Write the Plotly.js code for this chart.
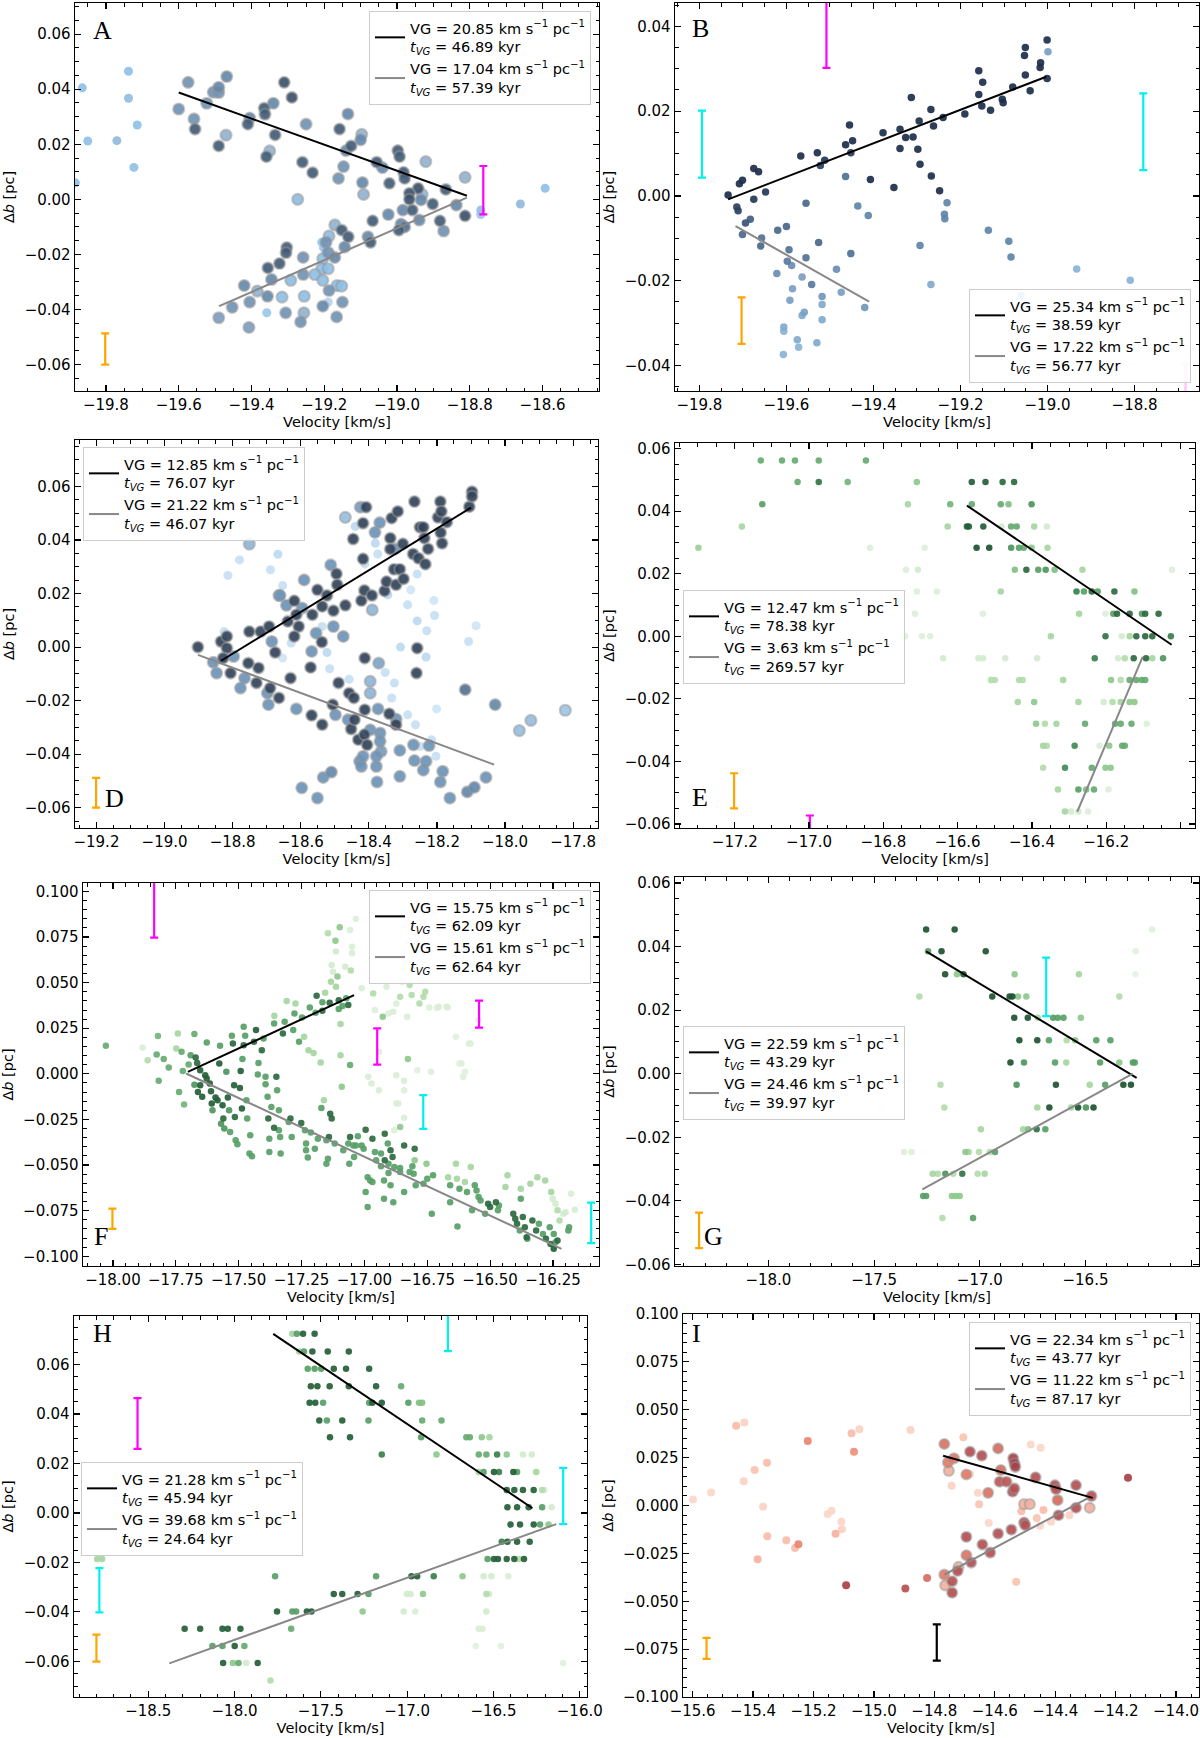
<!DOCTYPE html>
<html>
<head>
<meta charset="utf-8">
<script src="https://cdn.plot.ly/plotly-3.0.1.min.js"></script>
<style>
  body { margin: 0; background: #fff; }
  #chart { width: 1200px; height: 1738px; }
</style>
</head>
<body>
<div id="chart"></div>
<script>
/***** data: [velocity, delta b, shade 0..1] *****/
var aField = [
[-19.865,0.0405,0.3],[-19.738,0.0465,0.3],[-19.738,0.0367,0.35],[-19.714,0.027,0.3],[-19.85,0.0212,0.3],[-19.77,0.0213,0.4],[-19.723,0.0116,0.3],[-19.884,0.006,0.35],
[-18.661,-0.0017,0.4],[-18.593,0.004,0.3],[-18.77,-0.0039,0.3],[-18.77,-0.0055,0.25]
];
var aPts = [
[-19.6,0.0328,0.65],[-19.574,0.0425,0.65],[-19.558,0.0292,0.65],[-19.555,0.0255,0.9],[-19.523,0.0349,0.65],[-19.505,0.0389,0.65],[-19.49,0.0407,0.7],[-19.49,0.0388,0.65],[-19.49,0.0194,0.9],[-19.468,0.0446,0.7],[-19.47,0.0233,0.5],
[-19.41,0.0273,0.9],[-19.405,0.0295,0.7],[-19.365,0.0331,0.9],[-19.363,0.0309,0.9],[-19.34,0.0349,0.7],[-19.335,0.0234,0.9],[-19.359,0.0155,0.9],[-19.35,0.0176,0.5],[-19.31,0.0425,0.95],[-19.289,0.037,0.95],[-19.25,0.0273,0.65],[-19.26,0.0135,0.9],[-19.232,0.0097,0.9],[-19.273,0.0,0.35],
[-19.158,0.0255,0.9],[-19.135,0.031,0.7],[-19.147,0.0119,0.65],[-19.161,0.0076,0.65],[-19.14,0.0177,0.7],[-19.126,0.0194,0.9],[-19.1,0.0216,0.7],[-19.097,0.0236,0.5],[-19.095,0.0061,0.7],[-19.092,0.0018,0.5],
[-19.056,0.0135,0.9],[-19.04,0.0115,0.7],[-19.021,0.0058,0.9],[-18.998,0.0177,0.9],[-18.993,0.0155,0.9],[-18.982,0.0098,0.9],[-18.979,0.0076,0.9],[-18.921,0.0137,0.5],[-18.942,0.004,0.95],[-18.966,0.0022,0.95],[-18.966,0.0,0.95],[-18.934,-0.0002,0.7],[-18.931,0.0018,0.4],[-18.866,0.0036,0.9],[-18.902,-0.0017,0.9],[-18.837,-0.0021,0.7],[-18.813,0.008,0.5],[-18.813,-0.006,0.95],
[-18.984,-0.0039,0.7],[-18.958,-0.0039,0.9],[-19.024,-0.0055,0.7],[-19.067,-0.0078,0.9],[-18.989,-0.009,0.7],[-18.995,-0.0112,0.9],[-18.979,-0.01,0.8],[-18.939,-0.0075,0.7],[-18.882,-0.0078,0.9],[-18.872,-0.0115,0.65],
[-19.08,-0.0136,0.7],[-19.073,-0.0156,0.9],[-19.171,-0.0093,0.5],[-19.152,-0.0112,0.9],[-19.134,-0.0136,0.9],[-19.144,-0.0173,0.7],[-19.187,-0.0133,0.35],[-19.195,-0.0156,0.65],[-19.207,-0.0156,0.25],[-19.202,-0.0176,0.25],[-19.189,-0.0193,0.65],
[-19.303,-0.0175,0.9],[-19.305,-0.0194,0.9],[-19.258,-0.0211,0.65],[-19.171,-0.0211,0.7],[-19.204,-0.0215,0.3],[-19.323,-0.0233,0.9],[-19.355,-0.0249,0.9],[-19.207,-0.0252,0.3],[-19.189,-0.0252,0.3],[-19.226,-0.0273,0.3],[-19.258,-0.0273,0.65],[-19.345,-0.0291,0.7],[-19.292,-0.0294,0.35],[-19.204,-0.0294,0.3],
[-19.42,-0.0313,0.7],[-19.384,-0.0333,0.5],[-19.165,-0.0313,0.3],[-19.152,-0.0315,0.3],[-19.187,-0.0331,0.65],[-19.356,-0.0352,0.7],[-19.316,-0.0355,0.3],[-19.255,-0.0352,0.3],[-19.15,-0.0373,0.65],[-19.189,-0.0373,0.15],[-19.405,-0.0373,0.65],[-19.453,-0.0392,0.65],[-19.204,-0.0388,0.7],[-19.358,-0.0412,0.25],[-19.306,-0.0412,0.65],[-19.256,-0.0412,0.5],[-19.166,-0.0427,0.65],[-19.49,-0.043,0.6],[-19.265,-0.0445,0.65],[-19.407,-0.0465,0.6]
];
var aFit = [[[-19.6,0.0388],[-18.808,0.0013]], [[-19.489,-0.0388],[-18.808,0.0006]]];
var aBars = {orange: [[-19.802,-0.06,-0.0487]], magenta: [[-18.763,-0.00545,0.0121]]};
var aVG = ['20.85', '17.04'];
var aTvg = ['46.89', '57.39'];

var bPts = [
[-19.734,0.0002,1],[-19.708,0.0029,1],[-19.701,0.0037,1],[-19.675,0.0065,1],[-19.664,0.0057,1],[-19.675,-0.0008,0.95],[-19.648,0.0009,0.95],[-19.567,0.0094,1],[-19.529,0.0102,1],[-19.522,0.0072,0.9],[-19.512,0.0084,0.95],[-19.464,0.0121,1],[-19.455,0.0167,1],[-19.448,0.013,1],[-19.452,0.0102,0.95],[-19.464,0.0046,0.65],[-19.407,0.0039,1],[-19.378,0.0149,1],[-19.353,0.002,1],[-19.339,0.0157,1],[-19.339,0.0112,1],[-19.326,0.0138,1],[-19.313,0.0232,1],[-19.309,0.0139,1],[-19.295,0.0177,1],[-19.298,0.011,1],[-19.293,0.0075,1],[-19.268,0.0204,1],[-19.262,0.0165,1],[-19.267,0.0047,1],[-19.24,0.0185,1],[-19.248,0.0012,1],[-19.19,0.0193,1],[-19.158,0.0295,1],[-19.158,0.0239,1],[-19.151,0.0212,1],[-19.149,0.0268,1],[-19.131,0.0202,1],[-19.104,0.0228,1],[-19.102,0.022,1],[-19.08,0.0257,1],[-19.051,0.035,1],[-19.053,0.0331,1],[-19.051,0.0285,1],[-19.04,0.0248,1],[-19.016,0.0314,1],[-19.017,0.0303,1],[-19.001,0.0368,1],[-19.001,0.0277,1],[-18.999,0.034,0.4],
[-19.231,-0.0016,0.55],[-19.237,-0.0043,0.55],[-19.236,-0.0054,0.55],[-19.136,-0.0081,0.55],[-19.089,-0.0107,0.55],[-19.084,-0.0144,0.55],[-18.933,-0.0172,0.3],[-18.81,-0.0199,0.3],[-19.061,-0.0235,0.3],[-19.268,-0.0209,0.35],[-19.293,-0.0117,0.55],[-19.436,-0.0024,0.55],[-19.412,-0.0046,0.55],
[-19.714,-0.0026,0.9],[-19.711,-0.0035,0.9],[-19.694,-0.0064,0.8],[-19.683,-0.0055,0.75],[-19.701,-0.0091,0.7],[-19.657,-0.0099,0.65],[-19.659,-0.0118,0.7],[-19.62,-0.0081,0.7],[-19.6,-0.0072,0.7],[-19.555,-0.0017,0.7],[-19.526,-0.011,0.7],[-19.594,-0.0127,0.65],[-19.598,-0.0154,0.6],[-19.588,-0.0164,0.5],[-19.555,-0.0146,0.65],[-19.452,-0.0136,0.65],[-19.485,-0.0173,0.5],[-19.622,-0.0183,0.5],[-19.564,-0.0191,0.4],[-19.542,-0.0209,0.6],[-19.586,-0.0219,0.4],[-19.474,-0.0227,0.4],[-19.518,-0.0237,0.45],[-19.592,-0.0246,0.4],[-19.518,-0.0256,0.35],[-19.42,-0.0263,0.45],[-19.559,-0.0274,0.4],[-19.564,-0.0282,0.35],[-19.518,-0.0292,0.35],[-19.606,-0.0309,0.35],[-19.606,-0.0319,0.3],[-19.575,-0.0339,0.35],[-19.572,-0.0357,0.3],[-19.53,-0.0346,0.35],[-19.607,-0.0374,0.3]
];
var bFit = [[[-19.734,-0.0008],[-19.003,0.0281]], [[-19.717,-0.0071],[-19.41,-0.0249]]];
var bBars = {orange: [[-19.703,-0.0349,-0.0239]], magenta: [[-19.508,0.0302,0.052]], cyan: [[-19.794,0.0043,0.0201],[-18.78,0.0061,0.0242]], pink: [[-18.683,-0.052,-0.0397]]};
var bVG = ['25.34', '17.22'];
var bTvg = ['38.59', '56.77'];

var dPts = [
[-18.902,0.0,1],[-18.834,0.0021,1],[-18.817,0.004,1],[-18.817,-0.0004,1],[-18.828,-0.0041,1],[-18.857,-0.0057,0.65],[-18.847,-0.0097,0.65],[-18.797,-0.0035,0.65],[-18.806,-0.0097,1],[-18.751,0.0058,1],[-18.724,-0.0078,1],[-18.754,-0.006,1],[-18.718,0.0058,1],[-18.693,0.0077,1],[-18.685,0.0021,0.65],[-18.675,-0.002,1],[-18.765,-0.0116,0.65],[-18.777,-0.0153,0.65],[-18.73,-0.0134,1],[-18.69,-0.0153,1],[-18.698,-0.0172,0.65],[-18.695,-0.0215,0.65],[-18.664,-0.019,1],
[-18.661,0.0193,0.65],[-18.642,0.0156,0.65],[-18.619,0.0173,1],[-18.638,0.0096,1],[-18.613,0.0121,1],[-18.606,0.0077,1],[-18.619,0.004,1],[-18.63,-0.0116,1],[-18.613,-0.0231,0.65],[-18.596,0.0146,0.65],[-18.59,0.0251,0.65],[-18.566,0.0121,1],[-18.555,0.0052,0.65],[-18.568,-0.0016,0.65],[-18.551,0.0214,1],[-18.537,0.0152,1],[-18.538,0.0019,1],[-18.571,-0.0076,1],[-18.568,-0.0255,1],[-18.537,-0.029,1],
[-18.523,0.0193,1],[-18.512,0.0307,0.65],[-18.504,0.0136,1],[-18.504,0.0077,0.65],[-18.495,0.0274,1],[-18.493,0.0233,1],[-18.489,-0.0134,1],[-18.506,-0.0215,1],[-18.498,-0.0253,0.65],[-18.469,0.0485,0.4],[-18.475,0.004,0.65],[-18.469,0.0156,1],[-18.461,-0.0271,0.65],[-18.458,-0.0172,1],[-18.452,-0.0306,1],[-18.446,0.0404,1],[-18.444,-0.019,1],[-18.442,-0.0271,1],[-18.431,-0.0346,1],[-18.427,-0.0427,0.65],[-18.425,0.0523,0.6],[-18.422,0.0174,1],[-18.422,-0.0446,0.65],[-18.417,0.0463,1],[-18.417,0.033,1],[-18.413,0.0212,1],[-18.417,-0.0408,0.65],[-18.412,-0.0041,1],[-18.412,-0.0234,1],[-18.413,-0.0327,1],[-18.408,0.0523,1],[-18.405,-0.0365,1],[-18.396,-0.0128,0.45],[-18.396,-0.0172,0.45],[-18.391,0.0193,1],[-18.39,0.0139,0.45],[-18.396,-0.0309,0.65],[-18.382,0.0429,0.65],[-18.376,-0.0504,0.65],[-18.378,-0.0408,0.65],[-18.378,-0.0446,0.65],[-18.371,-0.006,0.55],[-18.373,-0.0231,0.65],[-18.367,-0.0321,0.65],[-18.367,-0.0352,0.65],[-18.364,-0.039,0.6],[-18.368,0.0465,0.65],
[-18.354,0.021,1],[-18.348,0.0245,1],[-18.34,-0.0249,1],[-18.337,0.0407,1],[-18.337,0.0366,1],[-18.333,0.0482,1],[-18.326,0.0291,1],[-18.323,0.0367,0.65],[-18.32,0.0233,1],[-18.315,0.0507,1],[-18.309,0.0291,1],[-18.32,-0.029,1],[-18.32,-0.0269,0.65],[-18.309,-0.0386,0.65],[-18.309,-0.0483,0.65],[-18.3,0.0386,1],[-18.298,0.0255,1],[-18.27,0.0348,1],[-18.266,0.0544,1],[-18.258,-0.0004,1],[-18.26,-0.0097,1],[-18.269,-0.0365,0.65],[-18.266,-0.0424,0.65],[-18.254,0.0332,1],[-18.25,0.0448,1],[-18.24,0.0448,1],[-18.237,0.0407,1],[-18.234,0.031,1],[-18.24,-0.046,0.65],[-18.232,-0.0427,0.65],[-18.226,0.0367,1],[-18.223,-0.0368,0.65],[-18.197,0.0485,1],[-18.19,0.0544,1],[-18.189,0.0428,1],[-18.187,0.0507,1],[-18.185,0.0388,1],[-18.183,-0.0464,0.65],[-18.19,-0.0504,0.65],[-18.171,0.0467,1],[-18.162,-0.0564,0.65],[-18.117,-0.0159,0.8],[-18.111,-0.0541,0.7],[-18.105,0.0525,1],[-18.097,0.0581,1],[-18.097,0.0563,1],[-18.09,-0.0524,0.7],[-18.056,-0.0487,0.65],[-18.029,-0.0215,0.7],[-17.958,-0.0312,0.4],[-17.924,-0.0274,0.4],[-17.823,-0.0236,0.35],
[-18.597,-0.0526,0.65],[-18.551,-0.0564,0.65],[-18.534,-0.0487,0.65],[-18.51,-0.0467,0.7],
[-18.751,0.0385,0.45],[-18.78,0.0326,0.15],[-18.814,0.0268,0.15],[-18.689,0.0289,0.15],[-18.667,0.0347,0.2],[-18.653,0.023,0.15],[-18.664,0.0193,0.4],[-18.825,0.0058,0.15],[-18.653,-0.0041,0.1],[-18.628,0.0015,0.15],[-18.537,0.0077,0.15],[-18.523,-0.002,0.2],[-18.515,-0.0081,0.15],[-18.458,-0.012,0.15],[-18.44,0.0451,0.2],[-18.412,0.0311,0.15],[-18.381,0.0388,0.2],[-18.374,0.0348,0.15],[-18.344,0.0195,0.2],[-18.352,-0.0095,0.15],[-18.333,-0.019,0.15],[-18.325,-0.0134,0.15],[-18.307,0.0,0.2],[-18.286,0.0158,0.15],[-18.277,0.0214,0.1],[-18.258,0.0273,0.15],[-18.258,0.0098,0.2],[-18.23,0.0061,0.15],[-18.232,-0.0037,0.2],[-18.286,-0.0253,0.15],[-18.263,-0.029,0.15],[-18.249,-0.0371,0.15],[-18.209,0.0174,0.1],[-18.207,0.0118,0.15],[-18.201,-0.0231,0.1],[-18.203,-0.0408,0.15],[-18.107,0.0021,0.15],[-18.085,0.008,0.1],[-18.216,-0.0346,0.15]
];
var dFit = [[[-18.834,-0.0051],[-18.1,0.0521]], [[-18.902,-0.0029],[-18.032,-0.0439]]];
var dBars = {orange: [[-19.201,-0.06,-0.0489]]};
var dVG = ['12.85', '21.22'];
var dTvg = ['76.07', '46.07'];

var ePts = [
[-17.13,0.0562,0.6],[-17.073,0.0562,0.6],[-17.038,0.0562,0.6],[-16.974,0.0562,0.6],[-16.847,0.0562,0.6],
[-17.031,0.0493,0.6],[-16.974,0.0493,0.85],[-16.896,0.0493,0.55],[-16.71,0.0493,0.45],[-16.562,0.0493,0.95],[-16.525,0.0493,0.95],[-16.479,0.0493,0.9],[-16.448,0.0493,0.9],
[-17.126,0.0422,0.65],[-16.734,0.0422,0.35],[-16.62,0.0422,0.55],[-16.562,0.0422,0.6],[-16.484,0.0422,0.6],[-16.463,0.0422,0.5],[-16.401,0.0422,0.7],
[-17.181,0.0351,0.35],[-16.627,0.0351,0.35],[-16.575,0.0351,0.95],[-16.57,0.0351,0.95],[-16.531,0.0351,0.95],[-16.482,0.0351,0.15],[-16.456,0.0351,0.6],[-16.441,0.0351,0.6],[-16.394,0.0351,0.35],[-16.36,0.0351,0.15],
[-17.298,0.0283,0.4],[-16.836,0.0283,0.1],[-16.689,0.0283,0.1],[-16.549,0.0283,1],[-16.515,0.0283,1],[-16.456,0.0283,0.7],[-16.435,0.0283,0.65],[-16.422,0.0283,0.6],[-16.401,0.0283,0.45],[-16.358,0.0283,0.35],
[-16.739,0.0213,0.1],[-16.707,0.0213,0.15],[-16.446,0.0213,0.5],[-16.415,0.0213,0.9],[-16.383,0.0213,0.65],[-16.363,0.0213,0.7],[-16.339,0.0213,0.5],[-16.264,0.0213,0.35],[-16.023,0.0213,0.1],
[-16.71,0.0143,0.1],[-16.656,0.0143,0.1],[-16.484,0.0143,0.35],[-16.28,0.0143,0.8],[-16.26,0.0143,0.65],[-16.239,0.0143,0.9],[-16.223,0.0143,0.65],[-16.178,0.0143,0.9],[-16.124,0.0143,0.5],
[-16.715,0.0072,0.1],[-16.532,0.0072,0.1],[-16.273,0.0072,0.35],[-16.202,0.0072,0.1],[-16.181,0.0072,0.65],[-16.171,0.0072,0.9],[-16.137,0.0072,0.9],[-16.104,0.0072,0.65],[-16.095,0.0072,0.9],[-16.059,0.0072,0.9],
[-16.741,0.0,0.08],[-16.696,0.0,0.1],[-16.674,0.0,0.1],[-16.349,0.0,0.35],[-16.202,0.0,0.85],[-16.158,0.0,0.15],[-16.137,0.0,0.35],[-16.119,0.0,0.9],[-16.095,0.0,0.9],[-16.076,0.0,0.9],[-16.026,0.0,0.8],
[-16.639,-0.007,0.15],[-16.544,-0.007,0.15],[-16.532,-0.007,0.15],[-16.472,-0.007,0.15],[-16.386,-0.007,0.15],[-16.231,-0.007,0.8],[-16.168,-0.007,0.15],[-16.15,-0.007,0.3],[-16.126,-0.007,0.9],[-16.093,-0.007,0.9],[-16.076,-0.007,0.35],[-16.047,-0.007,0.7],
[-16.51,-0.014,0.3],[-16.5,-0.014,0.3],[-16.435,-0.014,0.3],[-16.425,-0.014,0.3],[-16.316,-0.014,0.35],[-16.187,-0.014,0.45],[-16.161,-0.014,0.3],[-16.137,-0.014,0.6],[-16.119,-0.014,0.6],[-16.104,-0.014,0.6],[-16.095,-0.014,0.6],
[-16.438,-0.021,0.35],[-16.394,-0.021,0.45],[-16.275,-0.021,0.35],[-16.207,-0.021,0.15],[-16.183,-0.021,0.3],[-16.161,-0.021,0.35],[-16.137,-0.021,0.45],[-16.124,-0.021,0.45],
[-16.389,-0.028,0.45],[-16.365,-0.028,0.3],[-16.334,-0.028,0.35],[-16.257,-0.028,0.6],[-16.176,-0.028,0.6],[-16.161,-0.028,0.6],[-16.132,-0.028,0.6],[-16.091,-0.028,0.1],
[-16.37,-0.035,0.35],[-16.36,-0.035,0.3],[-16.285,-0.035,0.75],[-16.218,-0.035,0.1],[-16.192,-0.035,0.45],[-16.157,-0.035,0.6],[-16.15,-0.035,0.6],
[-16.37,-0.042,0.3],[-16.311,-0.042,0.75],[-16.239,-0.042,0.6],[-16.202,-0.042,0.45],[-16.188,-0.042,0.45],
[-16.33,-0.049,0.35],[-16.275,-0.049,0.65],[-16.254,-0.049,0.5],[-16.233,-0.049,0.6],[-16.194,-0.049,0.1],
[-16.311,-0.056,0.35],[-16.295,-0.056,0.15],[-16.275,-0.056,0.15],[-16.249,-0.056,0.1]
];
var eFit = [[[-16.575,0.0418],[-16.024,-0.0027]], [[-16.278,-0.0561],[-16.102,-0.0066]]];
var eBars = {orange: [[-17.202,-0.055,-0.0438]], magenta: [[-16.998,-0.068,-0.0573]]};
var eVG = ['12.47', '3.63'];
var eTvg = ['78.38', '269.57'];

var fPts = [
[-18.028,0.0154,0.6],[-17.882,0.0145,0.12],[-17.862,0.0075,0.3],[-17.821,0.0207,0.55],[-17.826,0.0106,0.6],[-17.818,-0.0038,0.6],[-17.798,0.0081,0.6],[-17.778,0.0035,0.6],[-17.742,0.0221,0.35],[-17.748,0.0139,0.35],[-17.727,0.0121,0.6],[-17.737,-0.0099,0.6],[-17.722,0.0015,0.6],[-17.717,-0.0168,0.55],[-17.691,0.0102,0.65],[-17.699,0.0051,0.6],[-17.676,0.0218,0.6],[-17.671,0.009,0.9],[-17.665,0.006,0.9],[-17.653,0.002,0.95],[-17.633,-0.0007,0.95],[-17.676,-0.0059,0.7],[-17.662,-0.0099,0.95],[-17.653,-0.0062,0.95],[-17.645,-0.0126,0.95],[-17.627,-0.0026,0.95],[-17.627,0.0172,0.65],[-17.615,-0.0053,0.95],[-17.61,-0.0095,0.95],[-17.607,-0.0163,0.95],[-17.604,-0.02,0.7],[-17.592,-0.013,0.95],[-17.584,-0.0145,0.95],[-17.577,0.0057,0.95],[-17.574,0.0154,0.65],[-17.57,-0.0273,0.7],[-17.564,-0.0172,0.95],[-17.561,-0.0245,0.9],[-17.557,-0.03,0.7],[-17.549,0.0011,0.7],[-17.543,-0.013,0.95],[-17.538,-0.02,0.7],[-17.534,-0.0318,0.65],[-17.527,0.0209,0.65],[-17.523,0.0167,0.9],[-17.518,-0.0062,0.95],[-17.515,-0.0236,0.9],[-17.512,-0.0364,0.65],[-17.505,-0.0386,0.65],[-17.495,-0.0077,0.95],[-17.492,0.0015,0.95],[-17.487,-0.019,0.95],[-17.485,0.0081,0.65],[-17.48,0.0157,0.9],[-17.474,0.0209,0.65],[-17.48,0.0258,0.65],[-17.469,-0.0145,0.65],[-17.466,-0.0245,0.65],[-17.457,-0.0437,0.65],[-17.447,-0.0452,0.65],[-17.454,-0.0337,0.65],[-17.439,0.0176,0.9],[-17.431,0.024,0.95],[-17.424,-0.0004,0.65],[-17.421,0.006,0.65],[-17.408,0.013,0.9],[-17.401,0.0194,0.65],[-17.393,-0.0016,0.65],[-17.393,-0.0057,0.65],[-17.385,-0.0126,0.65],[-17.382,-0.0245,0.9],[-17.378,-0.0355,0.65],[-17.37,-0.0181,0.65],[-17.359,-0.0295,0.9],[-17.359,0.0276,0.65],[-17.358,0.0318,0.35],[-17.35,-0.0016,0.9],[-17.347,-0.009,0.65],[-17.34,-0.02,0.65],[-17.335,-0.0346,0.65],[-17.333,-0.0437,0.65],[-17.324,0.0221,0.9],[-17.317,0.0285,0.65],[-17.309,0.0399,0.35],[-17.301,-0.0264,0.65],[-17.294,-0.0245,0.9],[-17.289,-0.0346,0.65],[-17.283,0.024,0.65],[-17.278,0.0331,0.65],[-17.274,0.0386,0.35],[-17.26,0.0176,0.65],[-17.251,-0.0269,0.9],[-17.248,0.0309,0.65],[-17.24,0.0203,0.35],[-17.236,-0.0309,0.65],[-17.232,-0.0382,0.65],[-17.225,-0.0459,0.65],[-17.222,0.013,0.35],[-17.217,0.0364,0.65],[-17.213,-0.0322,0.65],[-17.202,0.0115,0.35],[-17.197,-0.041,0.65],[-17.194,0.0335,0.65],[-17.19,0.0428,0.9],[-17.185,-0.0355,0.65],[-17.174,0.0062,0.35],[-17.171,-0.0187,0.65],[-17.167,0.0392,0.65],[-17.167,0.0346,0.9],[-17.161,-0.0145,0.35],[-17.156,0.0445,0.35],[-17.151,-0.0492,0.65],[-17.145,0.077,0.3],[-17.145,-0.0465,0.65],[-17.141,-0.0346,0.9],[-17.138,0.039,0.9],[-17.136,-0.0218,0.9],[-17.13,-0.0245,0.9],[-17.133,0.0505,0.35],[-17.125,0.056,0.15],[-17.13,0.0597,0.15],[-17.118,-0.0382,0.65],[-17.115,0.073,0.45],[-17.113,0.0478,0.35],[-17.113,0.067,0.15],[-17.107,0.0533,0.45],[-17.102,0.0404,0.9],[-17.102,0.0355,0.65],[-17.098,0.0803,0.45],[-17.095,0.0273,0.35],[-17.095,0.0102,0.35],[-17.09,-0.0071,0.45],[-17.087,0.0372,0.65],[-17.084,-0.0419,0.65],[-17.076,0.0587,0.15],[-17.072,0.0414,0.65],[-17.064,0.0377,0.9],[-17.064,-0.0382,0.65],[-17.06,-0.0492,0.65],[-17.057,0.0048,0.6],[-17.054,0.0566,0.3],[-17.049,0.0661,0.12],[-17.057,0.0789,0.12],[-17.049,0.0697,0.12],[-17.057,-0.0346,0.9],[-17.044,-0.0392,0.65],[-17.034,0.0849,0.1],[-17.034,-0.0392,0.65],[-17.026,-0.0342,0.65],[-17.011,0.0469,0.12],[-17.003,-0.041,0.65],[-16.995,-0.0306,0.9],[-16.995,-0.0648,0.65],[-16.987,-0.073,0.65],[-16.987,-0.0566,0.65],[-16.985,-0.0016,0.12],[-16.977,-0.0584,0.65],[-16.972,-0.0053,0.12],[-16.965,0.0441,0.3],[-16.968,-0.0355,0.9],[-16.968,-0.0593,0.65],[-16.958,-0.0428,0.65],[-16.953,-0.0474,0.65],[-16.942,-0.009,0.12],[-16.934,-0.0507,0.65],[-16.927,0.0313,0.45],[-16.922,-0.0584,0.65],[-16.922,-0.0684,0.65],[-16.919,-0.0328,0.9],[-16.919,-0.0474,0.9],[-16.912,0.0478,0.12],[-16.907,-0.0382,0.65],[-16.904,-0.0492,0.65],[-16.904,-0.0544,0.65],[-16.896,-0.0611,0.65],[-16.896,-0.0419,0.9],[-16.888,-0.0456,0.9],[-16.885,0.034,0.12],[-16.881,-0.051,0.65],[-16.885,-0.0703,0.65],[-16.873,-0.0007,0.12],[-16.865,-0.0163,0.12],[-16.858,0.0423,0.3],[-16.858,-0.0291,0.45],[-16.858,-0.0516,0.65],[-16.85,0.0505,0.12],[-16.842,-0.0038,0.12],[-16.842,-0.0393,0.9],[-16.842,-0.024,0.12],[-16.835,0.0606,0.12],[-16.83,0.0313,0.12],[-16.827,0.0081,0.45],[-16.82,0.0487,0.3],[-16.812,0.0569,0.12],[-16.812,0.0432,0.3],[-16.809,-0.0507,0.65],[-16.804,-0.0547,0.65],[-16.8,-0.041,0.9],[-16.8,-0.0474,0.45],[-16.796,0.0694,0.12],[-16.789,0.077,0.12],[-16.781,0.0386,0.3],[-16.773,0.0514,0.12],[-16.765,0.0423,0.3],[-16.765,-0.0602,0.65],[-16.753,-0.0492,0.45],[-16.732,-0.0767,0.65],[-16.727,-0.0556,0.65],[-16.735,0.0011,0.1],[-16.704,0.0368,0.12],[-16.673,0.0368,0.12],[-16.659,-0.0611,0.65],[-16.667,-0.0566,0.35],[-16.636,-0.0492,0.35],[-16.632,-0.0575,0.35],[-16.63,-0.0836,0.65],[-16.622,-0.063,0.65],[-16.614,0.0057,0.1],[-16.607,-0.0016,0.1],[-16.6,-0.0593,0.35],[-16.592,-0.0648,0.65],[-16.584,0.0167,0.1],[-16.577,-0.051,0.35],[-16.572,-0.0748,0.65],[-16.561,-0.0611,0.65],[-16.554,-0.0639,0.65],[-16.546,0.0295,0.1],[-16.546,-0.0675,0.65],[-16.538,-0.0694,0.65],[-16.52,-0.0767,0.65],[-16.508,-0.0712,0.9],[-16.5,-0.073,0.9],[-16.477,-0.0703,0.9],[-16.469,-0.0748,0.65],[-16.465,-0.0721,0.65],[-16.439,-0.062,0.35],[-16.431,-0.0556,0.35],[-16.408,-0.0767,0.9],[-16.4,-0.0794,0.9],[-16.393,-0.0822,0.9],[-16.382,-0.0858,0.65],[-16.378,-0.063,0.35],[-16.378,-0.0684,0.65],[-16.37,-0.0785,0.9],[-16.362,-0.084,0.9],[-16.355,-0.0895,0.9],[-16.352,-0.0904,0.65],[-16.34,-0.0602,0.35],[-16.332,-0.0803,0.9],[-16.317,-0.0858,0.9],[-16.312,-0.0566,0.35],[-16.306,-0.0822,0.65],[-16.29,-0.0877,0.65],[-16.281,-0.0584,0.35],[-16.278,-0.0904,0.9],[-16.263,-0.084,0.65],[-16.26,-0.0932,0.9],[-16.247,-0.0959,0.95],[-16.247,-0.0877,0.65],[-16.24,-0.0923,0.65],[-16.232,-0.0913,0.9],[-16.257,-0.0648,0.35],[-16.251,-0.0684,0.15],[-16.24,-0.0712,0.15],[-16.232,-0.0748,0.3],[-16.224,-0.0803,0.3],[-16.209,-0.0767,0.15],[-16.2,-0.0758,0.15],[-16.189,-0.0858,0.65],[-16.186,-0.084,0.65],[-16.178,-0.0657,0.12],[-16.163,-0.0745,0.12],
[-16.835,0.0844,0.1],[-16.827,0.0725,0.1],[-16.796,0.0661,0.1],[-16.773,0.0587,0.1],[-16.765,0.0569,0.1],[-16.758,0.045,0.3],[-16.742,0.0364,0.1],[-16.712,0.0362,0.1],[-16.669,0.0364,0.1],[-16.705,0.0789,0.08],[-16.69,0.0816,0.08],[-16.72,0.0889,0.08],[-16.644,0.0652,0.08],[-16.622,0.056,0.08],[-16.636,0.0203,0.08],[-16.622,0.0057,0.08],[-16.6,0.0011,0.08],[-16.577,0.0167,0.08],[-16.873,0.0386,0.1],[-16.904,0.0331,0.1],[-16.789,0.002,0.08],[-16.842,-0.009,0.1],[-16.873,-0.0163,0.1],[-16.881,-0.0309,0.1],[-16.942,0.0121,0.1],[-16.958,0.035,0.1],
[-17.378,-0.0428,0.65],[-17.34,-0.0309,0.65],[-17.232,-0.0419,0.65],[-17.151,-0.0364,0.65],[-17.011,-0.0392,0.65],[-17.041,-0.0456,0.65],[-16.934,-0.0437,0.65],[-16.82,-0.0538,0.65],[-16.858,-0.0538,0.65],[-16.659,-0.0703,0.65],[-16.75,-0.0575,0.65],[-16.796,-0.0611,0.65],[-16.842,-0.0648,0.65]
];
var fFit = [[[-17.702,0.0011],[-17.041,0.0432]], [[-17.709,0.0002],[-16.216,-0.0959]]];
var fBars = {orange: [[-18.002,-0.0849,-0.0739]], magenta: [[-17.836,0.0747,0.112],[-16.949,0.0051,0.0249],[-16.544,0.0253,0.0401]], cyan: [[-16.766,-0.0302,-0.0117],[-16.098,-0.0928,-0.0706]]};
var fVG = ['15.75', '15.61'];
var fTvg = ['62.09', '62.64'];

var gPts = [
[-17.254,0.0454,1],[-17.119,0.0454,1],[-16.185,0.0454,0.08],
[-17.245,0.0385,0.65],[-17.181,0.0385,1],[-16.972,0.0385,1],[-16.263,0.0385,0.08],
[-17.164,0.0313,1],[-17.108,0.0313,0.45],[-17.077,0.0313,0.95],[-16.835,0.0313,0.45],[-16.531,0.0313,0.35],[-16.263,0.0313,0.05],
[-17.286,0.0243,0.3],[-16.941,0.0243,1],[-16.859,0.0243,1],[-16.846,0.0243,1],[-16.819,0.0243,0.45],[-16.78,0.0243,0.45],[-16.34,0.0243,0.3],
[-16.837,0.0176,1],[-16.773,0.0176,1],[-16.726,0.0176,0.35],[-16.653,0.0176,0.65],[-16.631,0.0176,0.65],[-16.604,0.0176,0.65],[-16.522,0.0176,0.45],
[-16.813,0.0105,1],[-16.728,0.0105,1],[-16.673,0.0105,0.65],[-16.589,0.0105,0.3],[-16.549,0.0105,0.45],[-16.449,0.0105,0.65],[-16.382,0.0105,0.65],
[-16.855,0.0035,1],[-16.791,0.0035,0.7],[-16.644,0.0035,0.65],[-16.591,0.0035,0.35],[-16.431,0.0035,0.65],[-16.34,0.0035,0.45],[-16.276,0.0035,0.65],[-16.267,0.0035,0.65],
[-17.186,-0.0035,0.3],[-16.826,-0.0035,0.7],[-16.64,-0.0035,1],[-16.48,-0.0035,0.35],[-16.407,-0.0035,0.65],[-16.321,-0.0035,1],[-16.285,-0.0035,1],
[-17.469,-0.0106,0.05],[-17.168,-0.0106,0.3],[-16.728,-0.0106,0.35],[-16.671,-0.0106,1],[-16.568,-0.0106,0.35],[-16.535,-0.0106,1],[-16.498,-0.0106,0.7],[-16.462,-0.0106,1],
[-16.995,-0.0175,0.35],[-16.795,-0.0175,0.35],[-16.771,-0.0175,0.5],[-16.731,-0.0175,0.85],[-16.69,-0.0175,0.65],
[-17.359,-0.0246,0.1],[-17.323,-0.0246,0.1],[-17.068,-0.0246,0.45],[-17.053,-0.0246,0.35],[-17.004,-0.0246,0.3],[-16.953,-0.0246,0.3],[-16.928,-0.0246,0.65],
[-17.223,-0.0315,0.35],[-17.199,-0.0315,0.3],[-17.163,-0.0315,0.7],[-17.126,-0.0315,0.3],[-17.083,-0.0315,0.85],[-17.01,-0.0315,0.3],[-16.977,-0.0315,0.35],
[-17.268,-0.0385,0.65],[-17.254,-0.0385,0.65],[-17.132,-0.0385,0.45],[-17.114,-0.0385,0.45],[-17.095,-0.0385,0.45],
[-17.177,-0.0454,0.3],[-17.032,-0.0454,0.65]
];
var gFit = [[[-17.254,0.0385],[-16.258,-0.0013]], [[-17.272,-0.0364],[-16.276,0.0]]];
var gBars = {orange: [[-18.328,-0.0549,-0.0437]], cyan: [[-16.686,0.0181,0.0365]]};
var gVG = ['22.59', '24.46'];
var gTvg = ['43.29', '39.97'];

var hPts = [
[-17.665,0.0724,0.35],[-17.639,0.0724,0.65],[-17.603,0.0724,0.95],[-17.536,0.0724,0.95],
[-17.625,0.0653,0.35],[-17.598,0.0653,0.65],[-17.549,0.0653,0.95],[-17.46,0.0653,0.95],[-17.338,0.0653,0.95],
[-17.576,0.0583,0.65],[-17.536,0.0583,0.65],[-17.498,0.0583,0.65],[-17.425,0.0583,0.95],[-17.354,0.0583,0.95],[-17.22,0.0583,0.95],
[-17.558,0.0512,0.95],[-17.52,0.0512,0.95],[-17.449,0.0512,0.95],[-17.338,0.0512,0.95],[-17.18,0.0512,0.95],[-17.035,0.0512,0.6],
[-17.565,0.0445,0.95],[-17.532,0.0445,0.95],[-17.487,0.0445,0.65],[-17.22,0.0445,0.65],[-17.202,0.0445,0.95],[-17.147,0.0445,0.95],[-16.993,0.0445,0.65],[-16.931,0.0445,0.5],[-16.913,0.0445,0.5],
[-17.509,0.0374,0.95],[-17.465,0.0374,0.65],[-17.376,0.0374,0.95],[-17.224,0.0374,0.65],[-16.913,0.0374,0.6],[-16.801,0.0374,0.6],
[-17.447,0.0306,0.95],[-17.331,0.0306,0.95],[-16.919,0.0306,0.65],[-16.657,0.0306,0.6],[-16.637,0.0306,0.6],[-16.568,0.0306,0.45],[-16.523,0.0306,0.35],
[-17.147,0.0236,0.8],[-16.83,0.0236,0.45],[-16.585,0.0236,0.6],[-16.541,0.0236,0.6],[-16.479,0.0236,0.8],[-16.423,0.0236,0.45],[-16.329,0.0236,0.15],[-16.278,0.0236,0.15],
[-16.585,0.0165,0.35],[-16.557,0.0165,0.65],[-16.497,0.0165,0.95],[-16.468,0.0165,0.8],[-16.385,0.0165,0.95],[-16.363,0.0165,0.65],[-16.252,0.0165,0.35],
[-16.423,0.0093,0.95],[-16.379,0.0093,0.95],[-16.329,0.0093,0.95],[-16.267,0.0093,0.95],[-16.218,0.0093,0.3],[-16.206,0.0093,0.15],
[-16.419,0.0023,0.95],[-16.363,0.0023,0.95],[-16.296,0.0023,0.95],[-16.218,0.0023,0.65],[-16.163,0.0023,0.15],
[-16.401,-0.0047,0.95],[-16.346,-0.0047,0.95],[-16.267,-0.0047,0.95],[-16.23,-0.0047,0.65],[-16.181,-0.0047,0.45],
[-16.452,-0.0116,0.8],[-16.419,-0.0116,0.95],[-16.363,-0.0116,0.95],[-16.29,-0.0116,0.95],
[-16.534,-0.0186,0.65],[-16.497,-0.0186,0.95],[-16.474,-0.0186,0.95],[-16.423,-0.0186,0.95],[-16.379,-0.0186,0.95],[-16.352,-0.0186,0.3],[-16.323,-0.0186,0.95],[-18.796,-0.0186,0.35],[-18.767,-0.0186,0.35],
[-17.765,-0.0256,0.65],[-17.18,-0.0256,0.65],[-16.975,-0.0256,0.95],[-16.942,-0.0256,0.95],[-16.846,-0.0256,0.8],[-16.679,-0.0256,0.45],[-16.557,-0.0256,0.15],[-16.512,-0.0256,0.15],[-16.414,-0.0256,0.12],
[-17.425,-0.0328,0.95],[-17.376,-0.0328,0.95],[-17.287,-0.0328,0.95],[-17.224,-0.0328,0.65],[-17.002,-0.0328,0.15],[-16.98,-0.0328,0.15],[-16.908,-0.0328,0.45],[-16.541,-0.0328,0.3],[-16.525,-0.0328,0.15],
[-17.754,-0.0398,0.95],[-17.665,-0.0398,0.65],[-17.643,-0.0398,0.65],[-17.581,-0.0398,0.95],[-17.554,-0.0398,0.95],[-17.258,-0.0398,0.45],[-17.02,-0.0398,0.15],[-16.953,-0.0398,0.12],[-16.541,-0.0398,0.15],
[-18.289,-0.0468,0.95],[-18.199,-0.0468,0.95],[-18.07,-0.0468,0.95],[-18.039,-0.0468,0.95],[-17.966,-0.0468,0.95],[-17.672,-0.0468,0.6],[-16.585,-0.0468,0.12],[-16.563,-0.0468,0.12],
[-18.128,-0.0538,0.65],[-18.07,-0.0538,0.65],[-17.999,-0.0538,0.95],[-17.943,-0.0538,0.6],[-16.603,-0.0538,0.08],[-16.456,-0.0538,0.08],
[-18.066,-0.0607,0.95],[-18.01,-0.0607,0.45],[-17.977,-0.0607,0.6],[-17.932,-0.0607,0.15],[-17.866,-0.0607,0.95],[-16.096,-0.0607,0.08],
[-17.792,-0.0677,0.3]
];
var hFit = [[[-17.776,0.0724],[-16.274,0.0019]], [[-18.378,-0.0608],[-16.136,-0.0045]]];
var hBars = {orange: [[-18.8,-0.0601,-0.0492]], magenta: [[-18.562,0.0259,0.0464]], cyan: [[-16.764,0.0654,0.09],[-16.096,-0.0045,0.0182],[-18.783,-0.0402,-0.0223]]};
var hVG = ['21.28', '39.68'];
var hTvg = ['45.94', '24.64'];

var iField = [
[-15.599,0.0031,0.1],[-15.539,0.0068,0.1],[-15.456,0.0417,0.3],[-15.429,0.0434,0.15],[-15.431,0.0127,0.15],[-15.395,0.0185,0.25],[-15.354,0.0223,0.3],[-15.367,-0.0007,0.15],[-15.353,-0.016,0.3],[-15.385,-0.0281,0.35],[-15.29,-0.0181,0.3],[-15.261,-0.0222,0.3],[-15.25,-0.0202,0.55],[-15.219,0.0337,0.55],[-15.153,-0.0045,0.1],[-15.14,-0.0028,0.1],[-15.127,-0.0147,0.35],[-15.108,-0.0085,0.12],[-15.106,-0.0124,0.15],[-15.092,-0.0417,1],[-15.074,0.0377,0.3],[-15.048,0.0398,0.15],[-15.066,0.0281,0.5],[-14.879,0.0394,0.15],[-14.896,-0.0434,0.9],[-14.824,-0.0379,0.7],[-14.704,0.0356,0.25],[-14.682,0.0164,0.12],[-14.656,0.0066,0.12],[-14.652,0.0007,0.25],[-14.62,-0.0091,0.1],[-14.481,0.0319,0.1],[-14.448,0.0302,0.1],[-14.529,-0.0398,0.25],[-14.159,0.0145,1],[-14.353,-0.0051,0.15],[-14.414,-0.0085,0.12],[-14.439,-0.0024,0.3],[-14.461,-0.0065,0.25],[-14.512,-0.003,0.3],[-14.45,-0.0106,0.12]
];
var iCore = [
[-14.767,0.0321,0.65],[-14.755,0.0225,0.6],[-14.752,0.0181,0.35],[-14.735,0.0246,0.6],[-14.743,0.0103,0.15],[-14.694,0.0162,0.6],[-14.682,0.0281,0.9],[-14.643,0.026,0.9],[-14.622,0.0066,0.65],[-14.589,0.0298,0.7],[-14.58,0.0185,0.7],[-14.584,0.0124,0.85],[-14.561,0.0124,0.85],[-14.539,0.0246,1],[-14.535,0.022,1],[-14.532,0.0202,1],[-14.541,0.0072,0.9],[-14.535,0.0089,0.9],[-14.503,0.0007,0.35],[-14.484,0.0007,0.35],[-14.465,0.0147,0.9],[-14.401,0.0106,0.9],[-14.397,0.0085,0.9],[-14.392,0.0028,0.7],[-14.331,0.0106,0.9],[-14.28,0.0049,0.9],[-14.331,-0.0012,0.9],[-14.286,-0.0012,0.35],[-14.389,-0.0051,0.9],[-14.503,-0.0089,0.9],[-14.499,-0.0103,0.9],[-14.545,-0.0126,0.9],[-14.589,-0.0147,0.9],[-14.694,-0.0164,0.9],[-14.641,-0.0204,0.9],[-14.615,-0.0246,0.9],[-14.694,-0.026,0.65],[-14.678,-0.0298,0.9],[-14.72,-0.0321,0.35],[-14.723,-0.0342,0.9],[-14.767,-0.0361,0.6],[-14.741,-0.0396,0.9],[-14.764,-0.0417,0.35],[-14.741,-0.0455,0.9]
];
var iFit = [[[-14.771,0.026],[-14.276,0.004]], [[-14.767,-0.0361],[-14.293,0.0037]]];
var iBars = {orange: [[-15.554,-0.0801,-0.0691]], black: [[-14.792,-0.081,-0.0621]]};
var iVG = ['22.34', '11.22'];
var iTvg = ['43.77', '87.17'];

/***** colours *****/
var blueA = [[0,'#d7e8f5'],[0.3,'#8fc0e6'],[0.5,'#93b4d1'],[0.7,'#6489ad'],[1,'#34475e']];
var blueB = [[0,'#b5d2ea'],[0.3,'#8ab2d6'],[0.6,'#587b9f'],[1,'#1c2e4b']];
var blueD = [[0,'#e4f0fa'],[0.3,'#a9cfec'],[0.45,'#8fb6d8'],[0.65,'#6b94bb'],[1,'#33445b']];
var greens = [[0,'#f0f8ee'],[0.15,'#d3ebcf'],[0.3,'#b2dbab'],[0.45,'#8ec98c'],[0.65,'#58a067'],[0.8,'#3a7f4d'],[1,'#1d5330']];
var reds = [[0,'#fde5db'],[0.3,'#f8bca9'],[0.6,'#e57a66'],[1,'#a8404a']];
var barColors = {orange: '#ffa500', magenta: '#ff00ff', cyan: '#00f0f0', black: '#000000', pink: 'rgba(255,0,255,0.25)'};

/***** panel frames (pixel boxes: left, right, top, bottom) *****/
var panels = [
  {lab:'A', sets:[aField, aPts], halo:true, size:11, cs:blueA, fit:aFit, bars:aBars, vg:aVG, tvg:aTvg,
   box:[75,599,3,391], xr:[-19.885,-18.445], yr:[-0.0696,0.0713], dx:0.2, dy:0.02, mx:0.05, my:0.005, fx:'.1f', fy:'.2f',
   leg:[591,11,'right','top'], labPos:[0.052,0.93]},
  {lab:'B', sets:[bPts], halo:false, size:9.5, cs:blueB, fit:bFit, bars:bBars, vg:bVG, tvg:bTvg,
   box:[675,1199,3,391], xr:[-19.856,-18.652], yr:[-0.046,0.0455], dx:0.2, dy:0.02, mx:0.05, my:0.005, fx:'.1f', fy:'.2f',
   leg:[1191,383,'right','bottom'], labPos:[0.048,0.933]},
  {lab:'D', sets:[dPts], halo:true, size:11, cs:blueD, fit:dFit, bars:dBars, vg:dVG, tvg:dTvg,
   box:[75,598,440,828], xr:[-19.263,-17.727], yr:[-0.0676,0.0774], dx:0.2, dy:0.02, mx:0.05, my:0.005, fx:'.1f', fy:'.2f',
   leg:[83,447,'left','top'], labPos:[0.075,0.077]},
  {lab:'E', sets:[ePts], halo:false, size:8.5, cs:greens, fit:eFit, bars:eBars, vg:eVG, tvg:eTvg,
   box:[675,1195,443,828], xr:[-17.361,-15.961], yr:[-0.0613,0.0618], dx:0.2, dy:0.02, mx:0.05, my:0.005, fx:'.1f', fy:'.2f',
   leg:[683,590,'left','top'], labPos:[0.048,0.078]},
  {lab:'F', sets:[fPts], halo:false, size:8.5, cs:greens, fit:fFit, bars:fBars, vg:fVG, tvg:fTvg,
   box:[83,599,883,1266], xr:[-18.119,-16.067], yr:[-0.1053,0.1046], dx:0.25, dy:0.025, mx:0.05, my:0.005, fx:'.2f', fy:'.3f',
   leg:[591,890,'right','top'], labPos:[0.035,0.078]},
  {lab:'G', sets:[gPts], halo:false, size:8.5, cs:greens, fit:gFit, bars:gBars, vg:gVG, tvg:gTvg,
   box:[675,1199,877,1266], xr:[-18.442,-15.963], yr:[-0.0605,0.0619], dx:0.5, dy:0.02, mx:0.1, my:0.005, fx:'.1f', fy:'.2f',
   leg:[683,1026,'left','top'], labPos:[0.074,0.077]},
  {lab:'H', sets:[hPts], halo:false, size:8.5, cs:greens, fit:hFit, bars:hBars, vg:hVG, tvg:hTvg,
   box:[74,587,1316,1697], xr:[-18.93,-15.958], yr:[-0.0744,0.0796], dx:0.5, dy:0.02, mx:0.1, my:0.005, fx:'.1f', fy:'.2f',
   leg:[81,1462,'left','top'], labPos:[0.055,0.953]},
  {lab:'I', sets:[iField, iCore], halo:true, size:10, cs:reds, fit:iFit, bars:iBars, vg:iVG, tvg:iTvg,
   box:[683,1199,1314,1697], xr:[-15.632,-13.924], yr:[-0.1,0.1], dx:0.2, dy:0.025, mx:0.05, my:0.005, fx:'.1f', fy:'.3f',
   leg:[1191,1322,'right','top'], labPos:[0.027,0.948]}
];

var W = 1200, H = 1738;
var FONT = 'DejaVu Sans, sans-serif';

function legendName(vg, t) {
  return 'VG = ' + vg + ' km s<sup>\u22121</sup> pc<sup>\u22121</sup><br><i>t<sub>VG</sub></i> = ' + t + ' kyr';
}

function axis(dom, rng, dt, mdt, fmt, title, anchor, standoff) {
  return {
    domain: dom, range: rng, anchor: anchor, autorange: false,
    tick0: 0, dtick: dt, tickformat: fmt,
    ticks: 'inside', ticklen: 6, tickwidth: 1.2, tickcolor: '#000',
    minor: {ticks: 'inside', ticklen: 3.5, tickwidth: 1, tickcolor: '#000', tick0: 0, dtick: mdt, showgrid: false},
    showline: true, linecolor: '#000', linewidth: 1.4, mirror: 'allticks',
    showgrid: false, zeroline: false, automargin: false,
    tickfont: {family: FONT, size: 15, color: '#000'},
    title: {text: title, font: {family: FONT, size: 14.5, color: '#000'}, standoff: standoff}
  };
}

var data = [];
var layout = {
  width: W, height: H,
  margin: {l: 0, r: 0, t: 0, b: 0},
  paper_bgcolor: '#fff', plot_bgcolor: '#fff',
  font: {family: FONT, size: 14, color: '#000'},
  showlegend: true,
  annotations: []
};

panels.forEach(function (p, i) {
  var n = i + 1, sfx = n === 1 ? '' : String(n);
  var xa = 'x' + sfx, ya = 'y' + sfx, lg = 'legend' + sfx;
  var b = p.box;

  layout['xaxis' + sfx] = axis([b[0] / W, b[1] / W], p.xr, p.dx, p.mx, p.fx, 'Velocity [km/s]', ya, 3);
  layout['yaxis' + sfx] = axis([1 - b[3] / H, 1 - b[2] / H], p.yr, p.dy, p.my, p.fy, '\u0394<i>b</i> [pc]', xa, 6);

  // scattered stars, light ones underneath
  p.sets.forEach(function (set, k) {
    var pts = set.slice().sort(function (u, v) { return u[2] - v[2]; });
    var haloOn = p.halo && (p.sets.length === 1 || k === 1);
    data.push({
      type: 'scatter', mode: 'markers', xaxis: xa, yaxis: ya, showlegend: false, hoverinfo: 'skip',
      x: pts.map(function (q) { return q[0]; }),
      y: pts.map(function (q) { return q[1]; }),
      marker: {
        color: pts.map(function (q) { return q[2]; }),
        colorscale: p.cs, cmin: 0, cmax: 1, showscale: false, opacity: 0.92,
        size: pts.map(function (q) { return haloOn && q[2] >= 0.3 ? p.size : p.size - 2; }),
        line: {
          color: 'rgba(150,150,150,0.55)',
          width: pts.map(function (q) { return haloOn && q[2] >= 0.3 ? 2.2 : 0; })
        }
      }
    });
  });

  // velocity-gradient fits
  p.fit.forEach(function (seg, k) {
    data.push({
      type: 'scatter', mode: 'lines', xaxis: xa, yaxis: ya, legend: lg,
      x: [seg[0][0], seg[1][0]], y: [seg[0][1], seg[1][1]],
      line: {color: k === 0 ? '#000000' : '#888888', width: 2},
      name: legendName(p.vg[k], p.tvg[k]), hoverinfo: 'skip'
    });
  });

  // error bars
  Object.keys(p.bars).forEach(function (c) {
    var list = p.bars[c];
    data.push({
      type: 'scatter', mode: 'markers', xaxis: xa, yaxis: ya, showlegend: false, hoverinfo: 'skip',
      x: list.map(function (e) { return e[0]; }),
      y: list.map(function (e) { return (e[1] + e[2]) / 2; }),
      marker: {size: 2, opacity: 0},
      error_y: {type: 'data', symmetric: true, visible: true,
        array: list.map(function (e) { return (e[2] - e[1]) / 2; }),
        color: barColors[c], thickness: 2.2, width: 4}
    });
  });

  layout[lg] = {
    x: p.leg[0] / W, y: 1 - p.leg[1] / H, xanchor: p.leg[2], yanchor: p.leg[3],
    xref: 'paper', yref: 'paper',
    bgcolor: 'rgba(255,255,255,0.85)', bordercolor: '#cccccc', borderwidth: 1,
    font: {family: FONT, size: 14.5, color: '#000'}, tracegroupgap: 2, itemwidth: 30
  };

  layout.annotations.push({
    text: p.lab, xref: xa + ' domain', yref: ya + ' domain',
    x: p.labPos[0], y: p.labPos[1], xanchor: 'center', yanchor: 'middle', showarrow: false,
    font: {family: 'Liberation Serif, DejaVu Serif, serif', size: 26, color: '#000'}
  });
});

Plotly.newPlot('chart', data, layout, {displayModeBar: false, staticPlot: true});
</script>
</body>
</html>
